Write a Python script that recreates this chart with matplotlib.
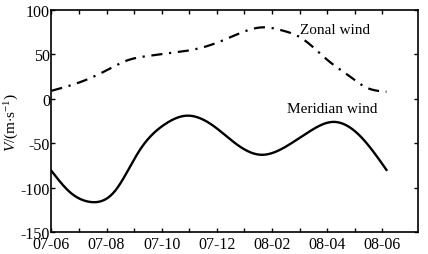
import numpy as np
import matplotlib
matplotlib.use("Agg")
import matplotlib.pyplot as plt

plt.rcParams['font.family'] = ['Liberation Serif', 'DejaVu Serif']
plt.rcParams['mathtext.fontset'] = 'custom'
plt.rcParams['mathtext.rm'] = 'Liberation Serif'
plt.rcParams['mathtext.it'] = 'Liberation Serif:italic'
plt.rcParams['axes.unicode_minus'] = False

# x positions (day index along the axis)
zonal_x = [0, 1.03, 1.87, 2.73, 3.57, 4.55, 5.38, 6.2, 7.08, 7.7, 8.4, 9.0, 10.1, 10.8, 11.4, 12.15]
zonal_v = [9, 18.6, 30, 43, 48.5, 52.4, 57, 65.5, 76.7, 80.5, 76.7, 69.6, 41.4, 25.7, 13, 8]

merid_x = [0, 0.67, 1.39, 2.3, 3.2, 4.1, 4.9, 5.9, 6.8, 7.6, 8.6, 9.4, 10.2, 11.2, 12.15]
merid_v = [-81, -105, -116, -104, -58, -29, -19, -31, -53, -63, -52, -36, -26, -42, -80]

tick_pos = [0, 2, 4, 6, 8, 10, 12]
tick_labels = ['07-06', '07-08', '07-10', '07-12', '08-02', '08-04', '08-06']

def spline(x, y, n=400):
    x = np.asarray(x, float); y = np.asarray(y, float)
    k = len(x)
    h = np.diff(x)
    A = np.zeros((k, k)); b = np.zeros(k)
    A[0, 0] = 1; A[-1, -1] = 1
    for i in range(1, k - 1):
        A[i, i-1] = h[i-1]; A[i, i] = 2*(h[i-1] + h[i]); A[i, i+1] = h[i]
        b[i] = 6*((y[i+1]-y[i])/h[i] - (y[i]-y[i-1])/h[i-1])
    M = np.linalg.solve(A, b)
    xs = np.linspace(x[0], x[-1], n)
    idx = np.clip(np.searchsorted(x, xs) - 1, 0, k - 2)
    x0, x1 = x[idx], x[idx+1]; hh = x1 - x0
    a = (x1 - xs)/hh; c = (xs - x0)/hh
    ys = (a*y[idx] + c*y[idx+1]
          + ((a**3 - a)*M[idx] + (c**3 - c)*M[idx+1])*hh**2/6)
    return xs, ys

fig = plt.figure(figsize=(4.28, 2.55), dpi=100)
ax = fig.add_axes([0.120, 0.086, 0.857, 0.871])

zx, zy = spline(zonal_x, zonal_v)
mx, my = spline(merid_x, merid_v)
ax.plot(zx, zy, color='black', lw=1.6, linestyle=(0, (5, 3, 1, 3)))
ax.plot(mx, my, color='black', lw=1.7)

ax.set_xlim(0, 13.3)
ax.set_ylim(-150, 100)
ax.set_yticks([-150, -100, -50, 0, 50, 100])
ax.set_xticks(tick_pos)
ax.set_xticklabels(tick_labels)
ax.set_xticks(range(0, 13), minor=True)
ax.tick_params(which='both', direction='in', top=True, right=True, length=3, width=1,
               labelsize=11.5)
ax.tick_params(axis='y', pad=1)
ax.tick_params(axis='x', pad=2.5)
for s in ax.spines.values():
    s.set_linewidth(1.2)

ax.text(10.3, 78, 'Zonal wind', fontsize=11, ha='center', va='center')
ax.text(10.2, -11, 'Meridian wind', fontsize=11, ha='center', va='center')
ax.set_ylabel(r'$V$/(m$\cdot$s$^{-1}$)', fontsize=11, labelpad=0)

fig.savefig('out.png', dpi=100)
